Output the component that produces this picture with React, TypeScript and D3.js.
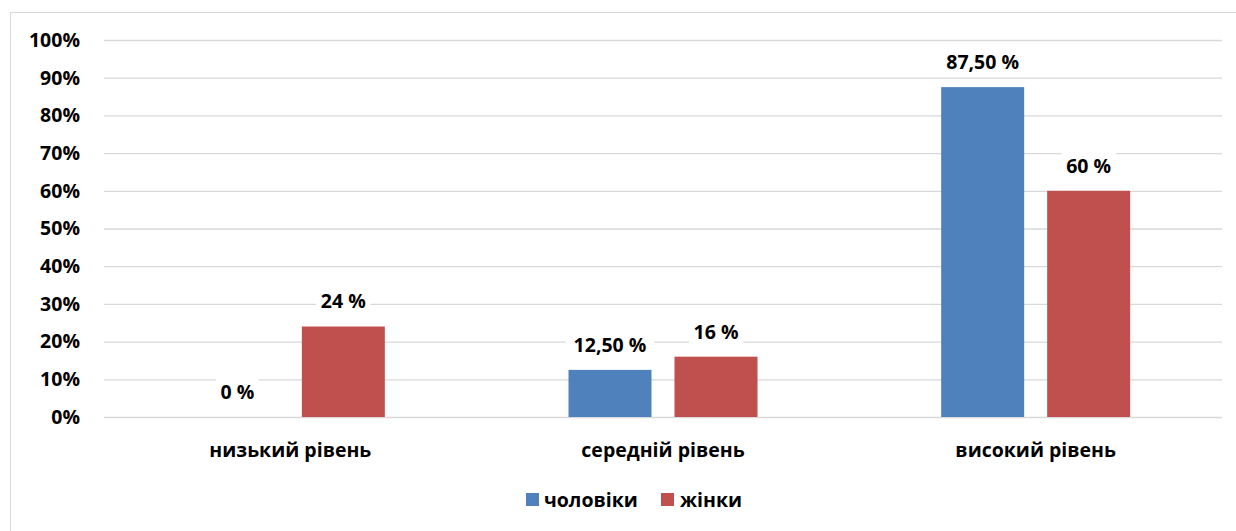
import React from "react";
import * as d3 from "d3";

const categories = ["низький рівень", "середній рівень", "високий рівень"];
const seriesNames = ["чоловіки", "жінки"];
const menValues = [0, 12.5, 87.5];
const womenValues = [24, 16, 60];
const menLabels = ["0 %", "12,50 %", "87,50 %"];
const womenLabels = ["24 %", "16 %", "60 %"];
const yTicks = [0, 10, 20, 30, 40, 50, 60, 70, 80, 90, 100];

const colors = ["#4F81BD", "#C0504D"];
const FONT = "'Open Sans', 'Liberation Sans', sans-serif";
const FS = 19.5;

export default function App() {
  const W = 1236, H = 531;
  const left = 104, right = 1222, top = 40, bottom = 417;
  const y = d3.scaleLinear().domain([0, 100]).range([bottom, top]);
  const x0 = d3.scaleBand().domain(categories).range([left, right]).padding(0);
  const bw0 = x0.bandwidth();
  const pairW = 189;
  const x1 = d3
    .scaleBand()
    .domain(seriesNames)
    .range([bw0 / 2 - pairW / 2, bw0 / 2 + pairW / 2])
    .paddingInner(0.217)
    .paddingOuter(0);
  const series = [
    { name: seriesNames[0], values: menValues, labels: menLabels },
    { name: seriesNames[1], values: womenValues, labels: womenLabels },
  ];
  return (
    <svg width={W} height={H} style={{ position: "absolute", left: 0, top: 0 }}>
      <rect x={0} y={0} width={W} height={H} fill="#fff" />
      <rect x={10.5} y={12.5} width={W} height={H} fill="#fff" stroke="#D9D9D9" strokeWidth={1} />
      {yTicks.map((t) => (
        <g key={t}>
          <line x1={left} x2={right} y1={y(t) + 0.5} y2={y(t) + 0.5} stroke="#D9D9D9" strokeWidth={1.3} />
          <text x={80} y={y(t)} dy="0.35em" textAnchor="end" fontFamily={FONT} fontWeight={700} fontSize={FS} fill="#000">
            {t}%
          </text>
        </g>
      ))}
      {categories.map((c, i) => (
        <g key={c} transform={`translate(${x0(c)},0)`}>
          {series.map((s, j) => {
            const bx = x1(s.name)!;
            const bw = x1.bandwidth();
            const v = s.values[i];
            const ly = y(v) - 25;
            const lbl = s.labels[i];
            const tw = lbl.length * 11.5;
            return (
              <g key={s.name}>
                <rect x={bx} y={y(v)} width={bw} height={bottom - y(v)} fill={colors[j]} />
                <rect x={bx + bw / 2 - tw / 2 - 4} y={ly - 14} width={tw + 8} height={28} fill="#fff" />
                <text x={bx + bw / 2} y={ly} dy="0.35em" textAnchor="middle" fontFamily={FONT} fontWeight={700} fontSize={FS} fill="#000">
                  {lbl}
                </text>
              </g>
            );
          })}
          <text x={bw0 / 2} y={450} dy="0.35em" textAnchor="middle" fontFamily={FONT} fontWeight={700} fontSize={FS} fill="#000">
            {c}
          </text>
        </g>
      ))}
      <g>
        <rect x={526} y={493} width={13} height={13} fill={colors[0]} />
        <text x={544} y={500} dy="0.35em" fontFamily={FONT} fontWeight={700} fontSize={FS} fill="#000">{seriesNames[0]}</text>
        <rect x={661} y={493} width={13} height={13} fill={colors[1]} />
        <text x={680} y={500} dy="0.35em" fontFamily={FONT} fontWeight={700} fontSize={FS} fill="#000">{seriesNames[1]}</text>
      </g>
    </svg>
  );
}
